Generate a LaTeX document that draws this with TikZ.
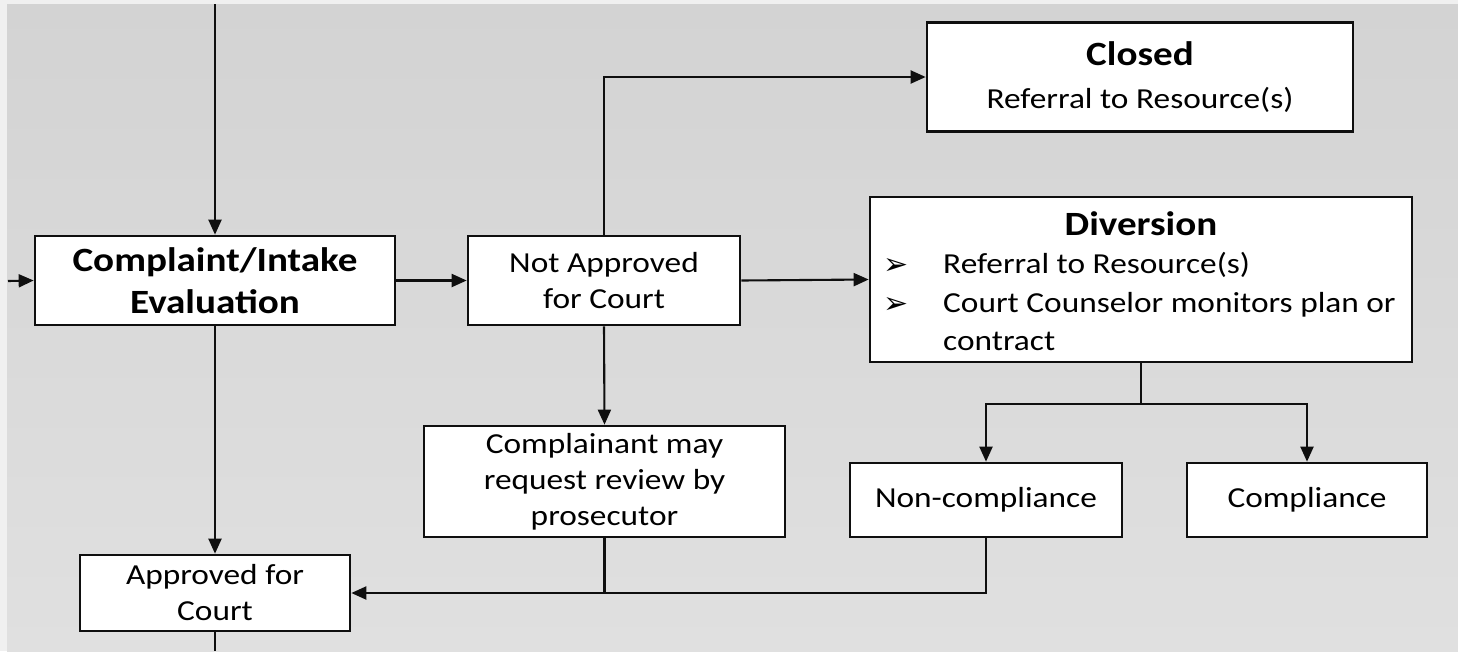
\documentclass[tikz,border=0pt]{standalone}
\usepackage{fontspec}
\setmainfont[FakeStretch=1.15]{Carlito}
\newfontfamily\symfont{DejaVu Sans}
\usetikzlibrary{arrows.meta}

\definecolor{pagewhite}{RGB}{240,240,240}
\definecolor{bgtop}{RGB}{211,211,211}
\definecolor{bgbottom}{RGB}{224,224,224}
\definecolor{ink}{RGB}{15,15,15}

\newcommand\rgtxt{\fontsize{29}{36}\selectfont}
\newcommand\bdtxt{\fontsize{34}{42}\selectfont\bfseries}
\newcommand\bullettxt{\symfont\fontsize{30}{30}\selectfont}

\begin{document}
\begin{tikzpicture}[x=1pt,y=-1pt,
  box/.style={draw=ink, line width=2.7pt, fill=white, inner sep=0pt,
    align=center, font=\rgtxt},
  titlebox/.style={box, font=\bdtxt},
  flow/.style={draw=ink, line width=2.1pt},
  arrow/.style={flow, -{Triangle[length=15pt,width=13pt]}},
  lbl/.style={inner sep=0pt, anchor=base, font=\rgtxt}]

% page and grey panel
\fill[pagewhite] (0,0) rectangle (1458,651);
\shade[top color=bgtop, bottom color=bgbottom] (7,4) rectangle (1458,651);
\useasboundingbox (0,0) rectangle (1458,651);

% boxes
\node[titlebox, minimum width=360pt, minimum height=89pt] (intake) at (215,280.5)
  {Complaint/Intake\\Evaluation};
\node[box, minimum width=272pt, minimum height=89pt] (notapp) at (604,280.5)
  {Not Approved\\for Court};
\node[box, minimum width=426pt, minimum height=109pt] (closed) at (1140,77) {};
\node[box, minimum width=542pt, minimum height=165pt] (div) at (1141,279.5) {};
\node[box, minimum width=272pt, minimum height=74pt] (noncomp) at (986,500)
  {Non-compliance};
\node[box, minimum width=240pt, minimum height=74pt] (comp) at (1307,500)
  {Compliance};
\node[box, minimum width=361pt, minimum height=111pt] (review) at (604.5,481.5)
  {Complainant may\\request review by\\prosecutor};
\node[box, minimum width=270pt, minimum height=76pt] (approved) at (215,593)
  {Approved for\\Court};

% texts of the two larger boxes
\node[lbl, font=\bdtxt] (closedtitle) at (1140,65) {Closed};
\node[lbl] (closedref) at (1140,108) {Referral to Resource(s)};
\node[lbl, font=\bdtxt] (divtitle) at (1141,235) {Diversion};
\node[lbl, font=\bullettxt] (b1) at (896,274) {➢};
\node[lbl, font=\bullettxt] (b2) at (896,313) {➢};
\node[lbl, anchor=base west] (d1) at (943,273) {Referral to Resource(s)};
\node[lbl, anchor=base west] (d2) at (943,312) {Court Counselor monitors plan or};
\node[lbl, anchor=base west] (d3) at (943,350) {contract};

% loose ends
\coordinate (intop) at (215,4);
\coordinate (inleft) at (8,281);
\coordinate (outbottom) at (215,651);
\coordinate (split) at (1141,404);

% connectors
\draw[arrow] (intop) -- (intake.north);
\draw[arrow] (inleft) -- (intake.west);
\draw[arrow] (intake.east) -- (notapp.west);
\draw[arrow] (notapp.east) -- (div.west);
\draw[arrow] (notapp.north) |- (closed.west);
\draw[arrow] (notapp.south) -- (review.north);
\draw[arrow] (intake.south) -- (approved.north);
\draw[flow] (div.south) -- (split);
\draw[arrow] (split) -| (noncomp.north);
\draw[arrow] (split) -| (comp.north);
\draw[arrow] (noncomp.south) |- (approved.east);
\draw[flow] (review.south) -- (review.south |- approved.east);
\draw[flow] (approved.south) -- (outbottom);
\end{tikzpicture}
\end{document}
